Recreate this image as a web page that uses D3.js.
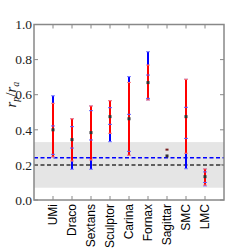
<!DOCTYPE html>
<html>
<head>
<meta charset="utf-8">
<script src="https://cdn.jsdelivr.net/npm/d3@7"></script>
<style>
  body { margin: 0; background: #fff; }
  .tick-label { font-family: "Liberation Serif", "DejaVu Serif", serif; font-size: 13.5px; fill: #222; }
  .cat-label { font-family: "Liberation Sans", Arial, sans-serif; font-size: 12px; fill: #000; }
</style>
</head>
<body>
<svg id="chart" width="249" height="249"></svg>
<script>
// data
var categories = ["UMi", "Draco", "Sextans", "Sculptor", "Carina", "Fornax", "Sagittar", "SMC", "LMC"];
var medians   = [0.400, 0.344, 0.384, 0.475, 0.463, 0.669, 0.251, 0.475, 0.133];
var redLow    = [0.245, 0.222, 0.228, 0.380, 0.255, 0.570, null, 0.266, 0.085];
var redHigh   = [0.551, 0.463, 0.536, 0.566, 0.670, 0.769, null, 0.688, 0.177];
var blueLow   = [0.245, 0.175, 0.175, 0.332, 0.255, 0.570, null, 0.178, 0.080];
var blueHigh  = [0.594, 0.463, 0.536, 0.566, 0.703, 0.845, null, 0.688, 0.177];
var blueTickLow  = [0.260, 0.296, 0.342, 0.431, 0.277, 0.579, null, 0.351, 0.100];
var blueTickHigh = [0.422, 0.418, 0.509, 0.526, 0.488, 0.712, null, 0.528, 0.160];
var extraPoints = [{cat: "Sagittar", value: 0.287}];
var bandRange = [0.070, 0.330];
var blueLine = 0.241;
var blackLine = 0.200;
var yTicks = [0.0, 0.2, 0.4, 0.6, 0.8, 1.0];

var svg = d3.select("#chart");
var margin = {top: 24.5, right: 25, bottom: 49, left: 34};
var width = +svg.attr("width") - margin.left - margin.right;
var height = +svg.attr("height") - margin.top - margin.bottom;

var data = categories.map(function(c, i) {
  return {cat: c, pos: i + 1, med: medians[i], rl: redLow[i], rh: redHigh[i],
          bl: blueLow[i], bh: blueHigh[i], tl: blueTickLow[i], th: blueTickHigh[i]};
});

var x = d3.scaleLinear().domain([0, categories.length + 1]).range([0, width]);
var y = d3.scaleLinear().domain([0, 1]).range([height, 0]);
var xPos = function(name) { return x(categories.indexOf(name) + 1); };

var g = svg.append("g")
  .attr("transform", "translate(" + margin.left + "," + margin.top + ")");

// grey band
g.append("rect")
  .attr("x", 0).attr("width", width)
  .attr("y", y(bandRange[1]))
  .attr("height", y(bandRange[0]) - y(bandRange[1]))
  .attr("fill", "#e5e5e5");

// dashed lines
g.append("line")
  .attr("x1", 0).attr("x2", width)
  .attr("y1", y(blueLine)).attr("y2", y(blueLine))
  .attr("stroke", "#0000ff").attr("stroke-width", 1.5).attr("stroke-dasharray", "4,2.5");
g.append("line")
  .attr("x1", 0).attr("x2", width)
  .attr("y1", y(blackLine)).attr("y2", y(blackLine))
  .attr("stroke", "#333").attr("stroke-width", 1.5).attr("stroke-dasharray", "4,2.5");

var withBars = data.filter(function(d) { return d.rl !== null; });

// blue error bars
g.selectAll(".blue-bar")
  .data(withBars)
  .enter().append("line")
  .attr("class", "blue-bar")
  .attr("x1", function(d) { return x(d.pos); })
  .attr("x2", function(d) { return x(d.pos); })
  .attr("y1", function(d) { return y(d.bl); })
  .attr("y2", function(d) { return y(d.bh); })
  .attr("stroke", "#0000ff").attr("stroke-width", 2);

g.selectAll(".blue-cap")
  .data(withBars.reduce(function(a, d) {
    return a.concat([{pos: d.pos, v: d.bl}, {pos: d.pos, v: d.bh}]);
  }, []))
  .enter().append("line")
  .attr("x1", function(d) { return x(d.pos) - 2; })
  .attr("x2", function(d) { return x(d.pos) + 2; })
  .attr("y1", function(d) { return y(d.v); })
  .attr("y2", function(d) { return y(d.v); })
  .attr("stroke", "#7f7fff").attr("stroke-width", 1);

// red error bars
g.selectAll(".red-bar")
  .data(withBars)
  .enter().append("line")
  .attr("class", "red-bar")
  .attr("x1", function(d) { return x(d.pos); })
  .attr("x2", function(d) { return x(d.pos); })
  .attr("y1", function(d) { return y(d.rl); })
  .attr("y2", function(d) { return y(d.rh); })
  .attr("stroke", "#ff0000").attr("stroke-width", 2);

g.selectAll(".red-cap")
  .data(withBars.reduce(function(a, d) {
    return a.concat([{pos: d.pos, v: d.rl}, {pos: d.pos, v: d.rh}]);
  }, []))
  .enter().append("line")
  .attr("x1", function(d) { return x(d.pos) - 2; })
  .attr("x2", function(d) { return x(d.pos) + 2; })
  .attr("y1", function(d) { return y(d.v); })
  .attr("y2", function(d) { return y(d.v); })
  .attr("stroke", "#ff8080").attr("stroke-width", 1);

// inner blue ticks
g.selectAll(".blue-tick")
  .data(withBars.reduce(function(a, d) {
    return a.concat([{pos: d.pos, v: d.tl}, {pos: d.pos, v: d.th}]);
  }, []))
  .enter().append("line")
  .attr("x1", function(d) { return x(d.pos) - 2; })
  .attr("x2", function(d) { return x(d.pos) + 2; })
  .attr("y1", function(d) { return y(d.v); })
  .attr("y2", function(d) { return y(d.v); })
  .attr("stroke", "#6060ff").attr("stroke-width", 1);

// medians
g.selectAll(".med")
  .data(data)
  .enter().append("rect")
  .attr("x", function(d) { return x(d.pos) - 1.5; })
  .attr("y", function(d) { return y(d.med) - 1.5; })
  .attr("width", 3).attr("height", 3)
  .attr("fill", "#333");

g.selectAll(".extra")
  .data(extraPoints)
  .enter().append("rect")
  .attr("x", function(d) { return xPos(d.cat) - 1.5; })
  .attr("y", function(d) { return y(d.value) - 1; })
  .attr("width", 3).attr("height", 2)
  .attr("fill", "#7a2020");

// axes frame
var axisColor = "#888";
g.append("rect")
  .attr("x", 0).attr("y", 0).attr("width", width).attr("height", height)
  .attr("fill", "none").attr("stroke", axisColor).attr("stroke-width", 1.5);

// y ticks (left and right, pointing in)
yTicks.forEach(function(t) {
  g.append("line").attr("x1", 0).attr("x2", 4).attr("y1", y(t)).attr("y2", y(t))
    .attr("stroke", axisColor).attr("stroke-width", 1);
  g.append("line").attr("x1", width - 4).attr("x2", width).attr("y1", y(t)).attr("y2", y(t))
    .attr("stroke", axisColor).attr("stroke-width", 1);
  g.append("text")
    .attr("class", "tick-label")
    .attr("x", -2).attr("y", y(t)).attr("dy", "0.35em")
    .attr("text-anchor", "end")
    .text(d3.format(".1f")(t));
});

// x ticks (top and bottom, pointing in)
data.forEach(function(d) {
  g.append("line").attr("x1", x(d.pos)).attr("x2", x(d.pos)).attr("y1", 0).attr("y2", 4)
    .attr("stroke", axisColor).attr("stroke-width", 1);
  g.append("line").attr("x1", x(d.pos)).attr("x2", x(d.pos)).attr("y1", height - 4).attr("y2", height)
    .attr("stroke", axisColor).attr("stroke-width", 1);
});

// category labels, rotated
g.selectAll(".cat-label")
  .data(data)
  .enter().append("text")
  .attr("class", "cat-label")
  .attr("transform", function(d) { return "translate(" + x(d.pos) + "," + (height + 4) + ") rotate(-90)"; })
  .attr("dy", "0.35em")
  .attr("text-anchor", "end")
  .text(function(d) { return d.cat; });

// y axis label r_p / r_a
var ylab = svg.append("text")
  .attr("transform", "translate(16," + (margin.top + y(0.6)) + ") rotate(-90)")
  .attr("text-anchor", "middle")
  .attr("font-family", "Liberation Serif, DejaVu Serif, serif")
  .attr("font-size", 15)
  .attr("fill", "#222");
ylab.append("tspan").attr("font-style", "italic").text("r");
ylab.append("tspan").attr("font-style", "italic").attr("font-size", 10).attr("dy", 3).text("p");
ylab.append("tspan").attr("dy", -3).text("/");
ylab.append("tspan").attr("font-style", "italic").text("r");
ylab.append("tspan").attr("font-style", "italic").attr("font-size", 10).attr("dy", 3).text("a");
</script>
</body>
</html>
